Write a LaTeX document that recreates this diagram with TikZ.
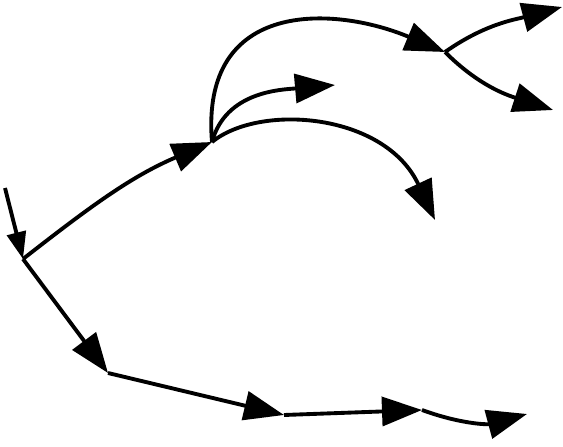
\documentclass[tikz,border=0pt]{standalone}
\usetikzlibrary{arrows.meta}

\begin{document}
\begin{tikzpicture}[x=0.2mm, y=0.2mm,
                    edge/.style={line width=2.2pt, -{Triangle[length=8mm, width=5.8mm]}},
                    first edge/.style={line width=2.2pt, -{Triangle[length=5.4mm, width=3.8mm]}}]
  \useasboundingbox (0,0) rectangle (563,446);
  % junctions and ends
  \coordinate (root) at (5,258);
  \coordinate (fork) at (23,187);
  \coordinate (upper) at (212,304);
  \coordinate (lowA) at (108,73);
  \coordinate (lowB) at (284,31);
  \coordinate (lowC) at (422,36);
  \coordinate (lowD) at (527,32);
  \coordinate (top) at (445,394);
  \coordinate (topUp) at (562,439);
  \coordinate (topDown) at (553,336);
  \coordinate (mid) at (335,361);
  \coordinate (drop) at (435,226);

  \draw[first edge] (root) -- (fork);
  \draw[edge] (fork) to[out=38, in=203] (upper);
  \draw[edge] (fork) -- (lowA);
  \draw[edge] (lowA) -- (lowB);
  \draw[edge] (lowB) -- (lowC);
  \draw[edge] (lowC) to[out=-20, in=195] (lowD);

  \draw[edge] (upper) .. controls (200,448) and (335,440) .. (top);
  \draw[edge] (upper) to[out=75, in=185] (mid);
  \draw[edge] (upper) .. controls (260,343) and (385,333) .. (drop);

  \draw[edge] (top) to[out=35, in=195] (topUp);
  \draw[edge] (top) to[out=-45, in=162] (topDown);
\end{tikzpicture}
\end{document}
